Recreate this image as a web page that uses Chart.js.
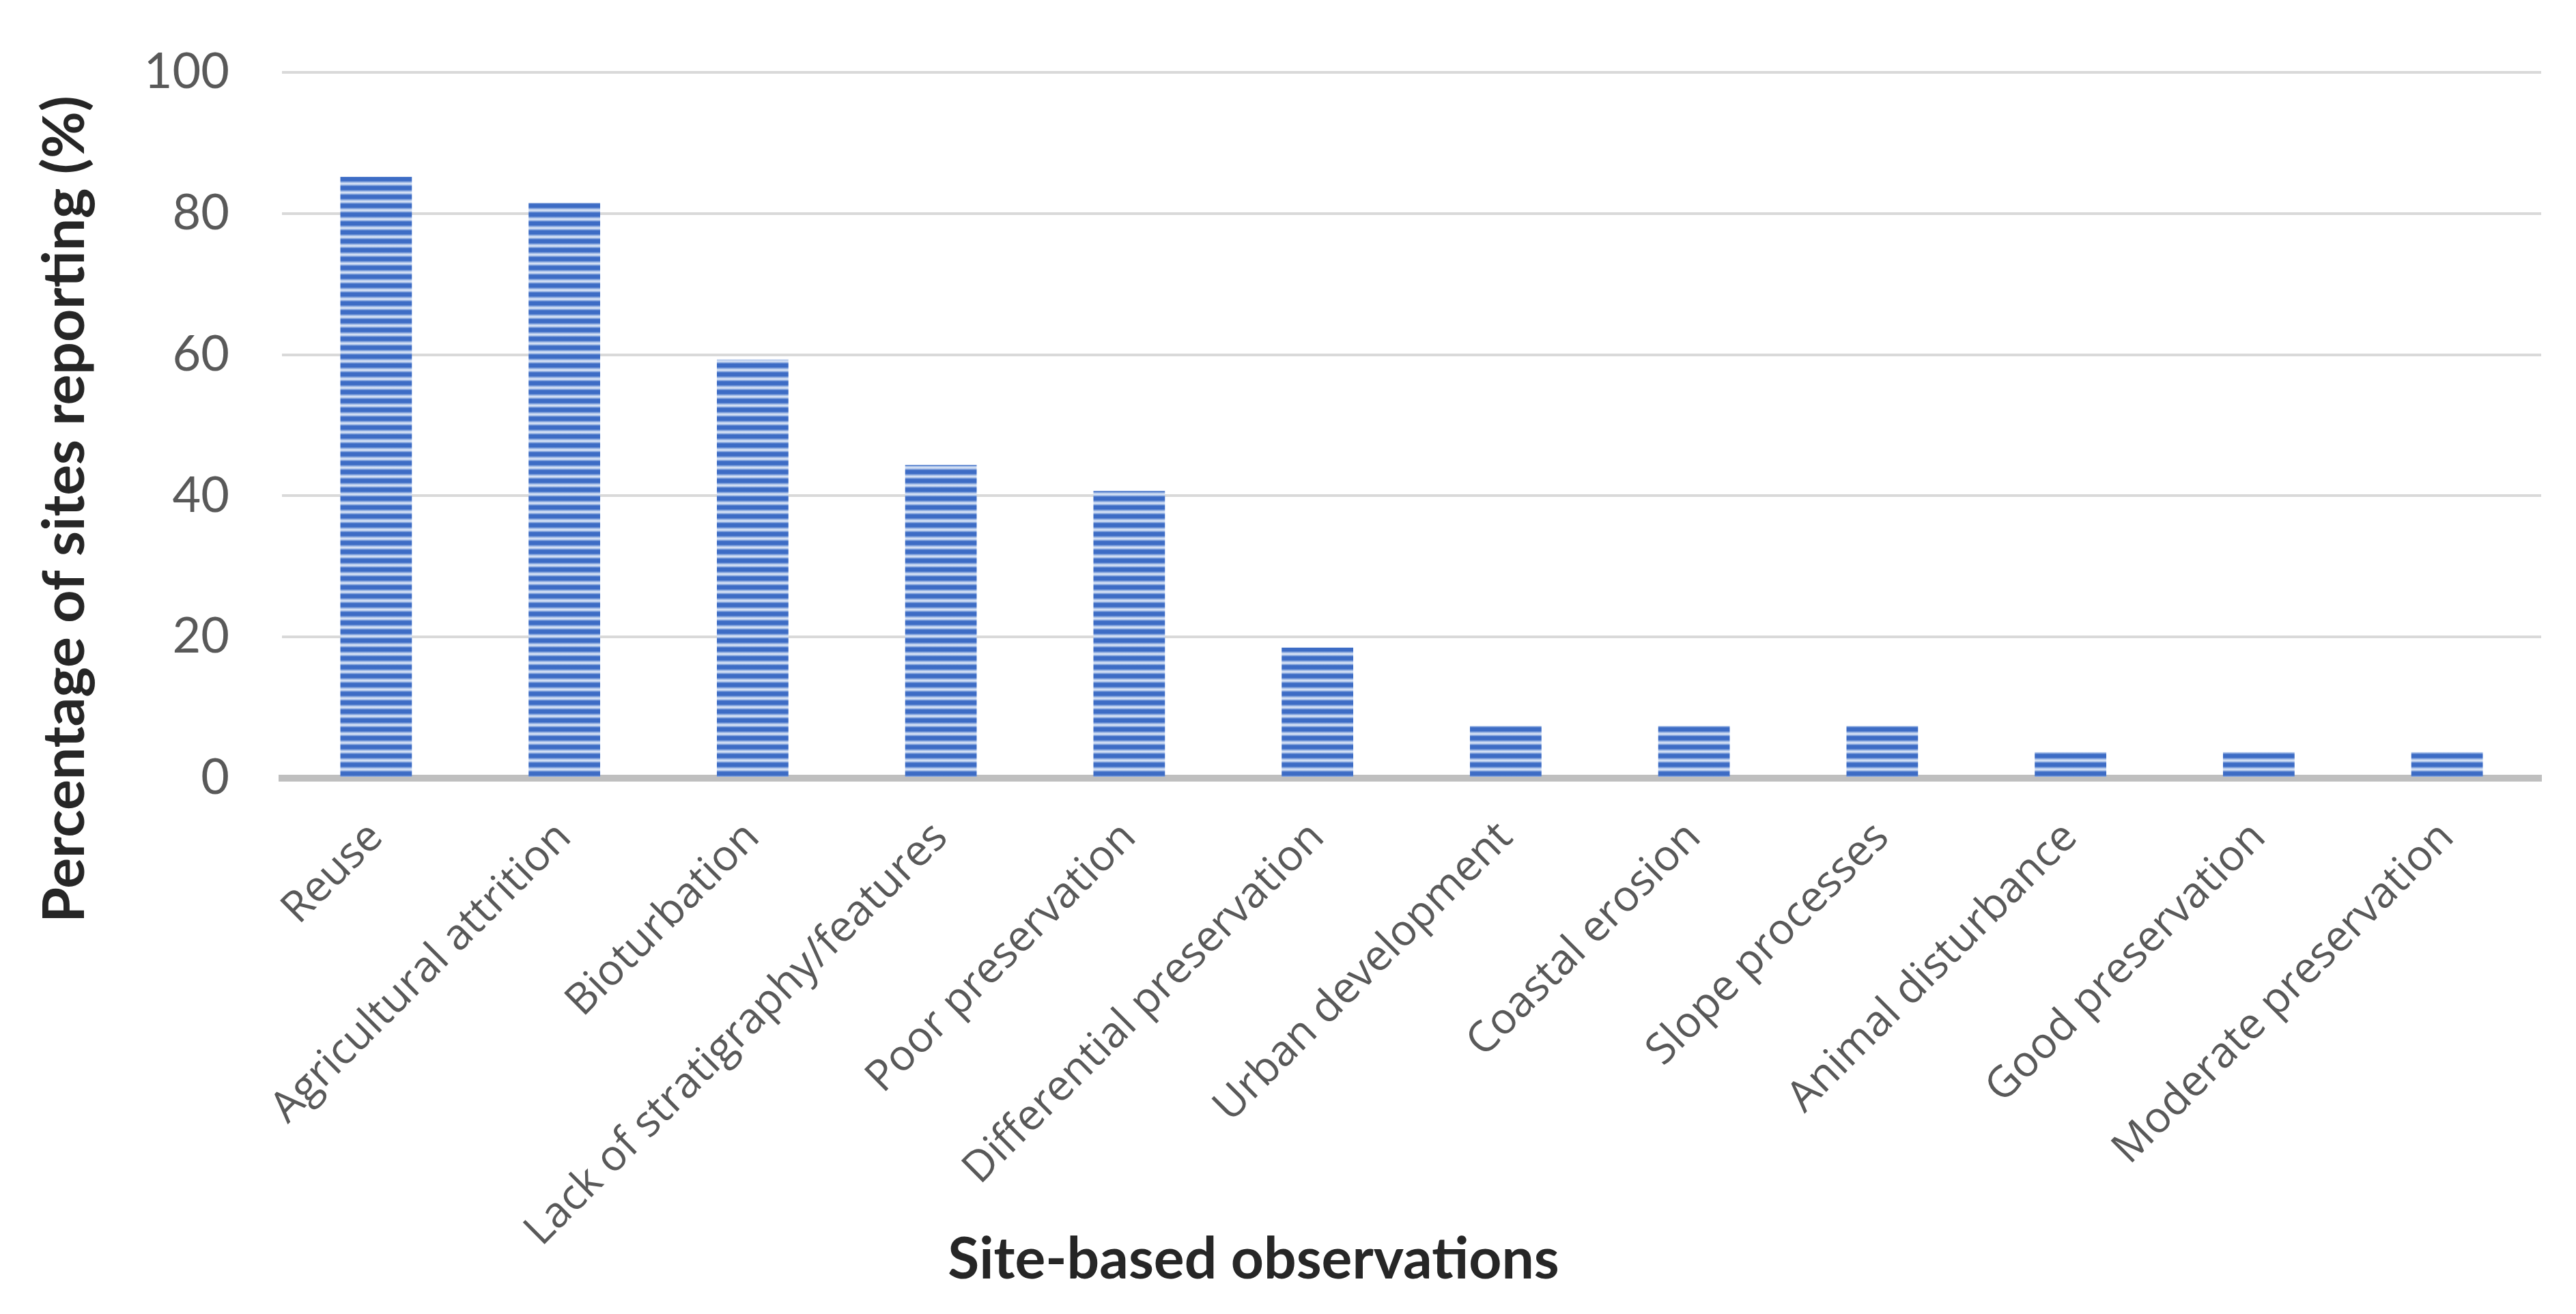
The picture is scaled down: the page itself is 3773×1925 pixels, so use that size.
<!DOCTYPE html>
<html>
<head>
<meta charset="utf-8">
<script src="https://cdn.jsdelivr.net/npm/chart.js@4"></script>
<style>
html,body{margin:0;padding:0;background:#fff;}
#wrap{width:3773px;height:1925px;}
</style>
</head>
<body>
<div id="wrap"><canvas id="c" width="3773" height="1925"></canvas></div>
<script>
const categories = ["Reuse","Agricultural attrition","Bioturbation","Lack of stratigraphy/features","Poor preservation","Differential preservation","Urban development","Coastal erosion","Slope processes","Animal disturbance","Good preservation","Moderate preservation"];
const percentages = [85.2,81.5,59.3,44.4,40.7,18.5,7.4,7.4,7.4,3.7,3.7,3.7];
const yTicks = [0,20,40,60,80,100];
const yTitle = "Percentage of sites reporting (%)";
const xTitle = "Site-based observations";

function stripePattern(){
  const p = document.createElement('canvas');
  p.width = 8; p.height = 13;
  const g = p.getContext('2d');
  const grad = g.createLinearGradient(0,0,0,13);
  grad.addColorStop(0,'#3d6cc5');
  grad.addColorStop(0.36,'#3d6cc5');
  grad.addColorStop(0.56,'#a4bde7');
  grad.addColorStop(0.70,'#e2eaf8');
  grad.addColorStop(0.84,'#a4bde7');
  grad.addColorStop(1,'#3d6cc5');
  g.fillStyle = grad;
  g.fillRect(0,0,8,13);
  return document.getElementById('c').getContext('2d').createPattern(p,'repeat');
}

const titlesPlugin = {
  id: 'axisTitles',
  afterDraw(chart) {
    const ctx = chart.ctx;
    ctx.save();
    ctx.fillStyle = '#262626';
    ctx.textAlign = 'center';
    ctx.textBaseline = 'middle';
    ctx.font = 'bold 84px Lato';
    ctx.fillText(xTitle, 1836, 1846);
    ctx.translate(96, 746);
    ctx.rotate(-Math.PI / 2);
    ctx.fillText(yTitle, 0, 0);
    ctx.restore();
  }
};

new Chart(document.getElementById('c'), {
  type: 'bar',
  data: {
    labels: categories,
    datasets: [{
      data: percentages,
      backgroundColor: stripePattern(),
      borderWidth: 0,
      categoryPercentage: 1.0,
      barPercentage: 0.38
    }]
  },
  plugins: [titlesPlugin],
  options: {
    responsive: false,
    animation: false,
    devicePixelRatio: 1,
    layout: { padding: { top: 106, right: 51, bottom: 0, left: 0 } },
    plugins: { legend: { display: false }, tooltip: { enabled: false } },
    scales: {
      x: {
        grid: { display: false, drawTicks: false },
        border: { display: true, color: '#bfbfbf', width: 10 },
        ticks: {
          maxRotation: 45, minRotation: 45, autoSkip: false,
          padding: 50,
          color: '#595959',
          font: { family: 'Open Sans', size: 63 }
        },
        title: { display: false },
        afterFit: (s) => { s.height = 785; }
      },
      y: {
        min: 0, max: 100,
        afterBuildTicks: (s) => { s.ticks = yTicks.map(v => ({ value: v })); },
        grid: { color: '#d9d9d9', lineWidth: 4, drawTicks: true, tickLength: 77, tickColor: 'rgba(0,0,0,0)' },
        border: { display: false },
        ticks: {
          padding: 0,
          color: '#595959',
          font: { family: 'Lato', size: 72 }
        },
        title: { display: false },
        afterFit: (s) => { s.width = 413; }
      }
    }
  }
});
</script>
</body>
</html>
